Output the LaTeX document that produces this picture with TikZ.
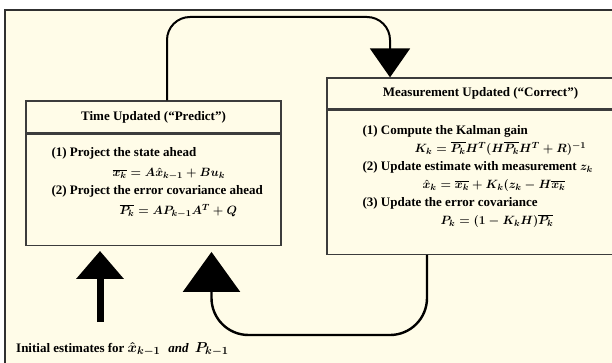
\documentclass[tikz,border=0pt]{standalone}
\usepackage{amsmath}
\usepackage{fontspec}
\setmainfont{Liberation Serif}
\usetikzlibrary{arrows.meta}

\definecolor{paper}{HTML}{FFFCE8}
\definecolor{edge}{HTML}{3C3C3C}

\tikzset{
  boxtitle/.style={draw=edge, line width=1.3pt, fill=paper, inner sep=0pt},
  boxbody/.style={draw=edge, line width=1.3pt, fill=paper, inner sep=0pt},
  steps/.style={align=left, inner sep=0pt, anchor=north west},
  flow/.style={draw=black, line width=2pt}
}

\begin{document}
\begin{tikzpicture}[x=1pt, y=-1pt, every node/.style={font=\fontsize{13}{17.6}\selectfont\bfseries\boldmath}]
  \useasboundingbox (0,0) rectangle (612,363);
  \clip (0,0) rectangle (612,363);
  % --- frame ---
  \fill[white] (0,0) rectangle (612,363);
  \draw[edge!80!black, line width=2.5pt, fill=paper] (5,10) rectangle (640,390);

  % --- Time Update box ---
  \node[boxtitle, minimum width=255pt, minimum height=32pt] (time) at (153.5,117) {Time Updated (“Predict”)};
  \node[boxbody, minimum width=255pt, minimum height=111pt, anchor=north] (timebody) at (time.south) {};
  \node[steps] (timesteps) at ([xshift=26pt, yshift=-14pt]timebody.north west) {%
    (1) Project the state ahead\\[2.5pt]
    \hspace*{61pt}$\overline{x_k} = A\hat{x}_{k-1} + Bu_k$\\
    (2) Project the error covariance ahead\\[2.5pt]
    \hspace*{68pt}$\overline{P_k} = AP_{k-1}A^T + Q$};

  % --- Measurement Update box ---
  \node[boxtitle, minimum width=307pt, minimum height=31pt] (meas) at (480.5,93.5) {Measurement Updated (“Correct”)};
  \node[boxbody, minimum width=307pt, minimum height=144pt, anchor=north] (measbody) at (meas.south) {};
  \node[steps] (meassteps) at ([xshift=36pt, yshift=-16pt]measbody.north west) {%
    (1) Compute the Kalman gain\\
    \hspace*{52pt}$K_k = \overline{P_k}H^T(H\overline{P_k}H^T + R)^{-1}$\\
    (2) Update estimate with measurement $z_k$\\[1pt]
    \hspace*{60pt}$\hat{x}_k = \overline{x_k} + K_k(z_k - H\overline{x_k}$\\
    (3) Update the error covariance\\[1pt]
    \hspace*{78pt}$P_k = (1 - K_kH)\overline{P_k}$};

  % --- initial estimates ---
  \node[anchor=base west, inner sep=0pt] (init) at (16,352)
    {Initial estimates for\hspace{3pt}{\fontsize{15}{18}\selectfont$\hat{x}_{k-1}$}\hspace{8pt}\textit{and}\hspace{6pt}{\fontsize{15}{18}\selectfont$P_{k-1}$}};

  % --- loop connectors ---
  \coordinate (upstart) at ([xshift=13.5pt]time.north);
  \coordinate (upend) at ([xshift=-90.5pt]meas.north);
  \coordinate (top) at (0,17);
  \draw[flow, rounded corners=23pt, -{Triangle[length=29pt, width=40pt]}]
    (upstart) |- (upend |- top) -- (upend);

  \coordinate (downstart) at ([xshift=-53.5pt]measbody.south);
  \coordinate (downend) at ([xshift=58pt, yshift=-6pt]timebody.south);
  \coordinate (low) at (0,335);
  \draw[flow, line width=2.4pt, rounded corners=37pt, -{Triangle[length=40pt, width=57pt]}]
    (downstart) -- (downstart |- low) -- (downend |- low) -- (downend);

  % --- initial arrow ---
  \coordinate (initstart) at (100,322);
  \coordinate (initend) at ([xshift=-53.5pt, yshift=-5pt]timebody.south);
  \draw[line width=7pt, -{Triangle[length=28pt, width=46pt]}] (initstart) -- (initend);
\end{tikzpicture}
\end{document}
